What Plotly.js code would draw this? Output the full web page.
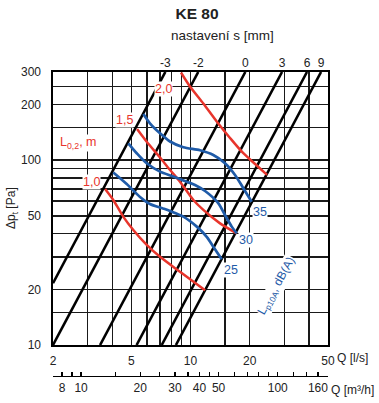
<!DOCTYPE html>
<html>
<head>
<meta charset="utf-8">
<script src="https://cdn.plot.ly/plotly-3.0.1.min.js"></script>
<style>html,body{margin:0;padding:0;background:#fff;}#chart{width:379px;height:403px;}</style>
</head>
<body>
<div id="chart"></div>
<script>
// ---- data ----
// setting lines (Δp ∝ Q²): endpoints inside the plot, Q [l/s], Δp [Pa]
var settingLabels = ['-3', '-2', '0', '3', '6', '9'];
var lineStartQ = [2, 2, 3.47, 5.32, 7.14, 8.43];
var lineStartP = [21.6, 10, 10, 10, 10, 10];
var lineEndQ = [7.45, 10.95, 19.0, 29.2, 39.1, 46.1];
var lineEndP = [300, 300, 300, 300, 300, 300];

// throw length L0,2 [m] curves
var throwLabels = ['1,0', '1,5', '2,0'];
var throwQ = [
  [3.68, 4.05, 4.55, 5.12, 5.99, 7.00, 8.84, 11.86],
  [5.35, 5.99, 7.00, 7.87, 8.84, 10.34, 11.62, 14.13, 17.18],
  [8.95, 9.94, 11.62, 13.59, 15.88, 18.5, 21.3, 24.5]
];
var throwP = [
  [69.8, 60.9, 49.5, 41.9, 34.8, 30.0, 24.9, 19.8],
  [147.5, 125.9, 103.4, 88.5, 76.5, 60.9, 53.8, 45.5, 40.2],
  [298, 250.5, 202.7, 162, 131.9, 109.4, 95.4, 83.2]
];

// noise Lp10A [dB(A)] curves
var noiseLabels = ['25', '30', '35'];
var noiseQ = [
  [4.05, 4.74, 5.54, 6.22, 7.25, 7.87, 9.19, 10.76, 12.09, 13.06, 14.41],
  [4.83, 5.33, 5.99, 7.00, 8.18, 9.56, 10.54, 11.86, 13.80, 14.97, 16.2, 17.18],
  [5.76, 6.22, 7.00, 7.87, 9.19, 11.18, 13.06, 14.97, 16.84, 18.56, 20.47]
];
var noiseP = [
  [85.8, 74.3, 63.2, 57.9, 54.8, 53.1, 49.5, 43.7, 38.5, 34.0, 29.1],
  [123.4, 109.0, 96.2, 86.7, 81.6, 76.5, 73.4, 68.1, 58.7, 50.5, 43.7, 40.2],
  [177.8, 158.4, 139.8, 126.2, 117.5, 113.1, 106.7, 96.2, 83.2, 70.5, 59.6]
];

// axes ticks
var qTickVals = [2, 3, 4, 5, 6, 7, 8, 9, 10, 15, 20, 30, 40, 50];
var qTickText = ['2', '', '', '5', '', '', '', '', '10', '', '20', '', '', '50'];
var pTickVals = [10, 15, 20, 30, 40, 50, 60, 70, 80, 90, 100, 150, 200, 250, 300];
var pTickText = ['10', '', '20', '', '', '50', '', '', '', '', '100', '', '200', '', '300'];
var m3hTickVals = [8, 9, 10, 15, 20, 25, 30, 35, 40, 45, 50, 60, 70, 80, 90, 100, 120, 140, 160, 180];
var m3hTickText = ['8', '', '10', '', '20', '', '30', '', '40', '', '50', '', '', '', '', '100', '', '', '160', ''];

// ---- styling ----
var FONT = 'Arial, "Liberation Sans", Helvetica, sans-serif';
var RED = '#e8352c';
var BLUE = '#1f5ba8';
var TXT = '#222222';

var traces = [];
for (var i = 0; i < settingLabels.length; i++) {
  traces.push({
    x: [lineStartQ[i], lineEndQ[i]], y: [lineStartP[i], lineEndP[i]],
    mode: 'lines', line: {color: '#000', width: 2.6}, hoverinfo: 'skip', showlegend: false,
    cliponaxis: true
  });
}
for (var j = 0; j < throwLabels.length; j++) {
  traces.push({
    x: throwQ[j], y: throwP[j], mode: 'lines',
    line: {color: RED, width: 2.5, shape: 'spline', smoothing: 0.8},
    hoverinfo: 'skip', showlegend: false
  });
}
for (var k = 0; k < noiseLabels.length; k++) {
  traces.push({
    x: noiseQ[k], y: noiseP[k], mode: 'lines',
    line: {color: BLUE, width: 2.7, shape: 'spline', smoothing: 0.8},
    hoverinfo: 'skip', showlegend: false
  });
}
// invisible traces to activate the extra axes
traces.push({x: [m3hTickVals[0]], y: [pTickVals[0]], xaxis: 'x2', yaxis: 'y', mode: 'none', hoverinfo: 'skip', showlegend: false});
traces.push({x: [lineEndQ[0]], y: [pTickVals[0]], xaxis: 'x3', yaxis: 'y', mode: 'none', hoverinfo: 'skip', showlegend: false});

var annotations = [];
// throw labels at the start of each red curve
var throwShift = [[-4, 7], [-3, 9], [-8, -16]];
for (var a = 0; a < throwLabels.length; a++) {
  annotations.push({
    x: Math.log10(throwQ[a][0]), y: Math.log10(throwP[a][0]), xref: 'x', yref: 'y',
    text: throwLabels[a], showarrow: false, xanchor: 'right', yanchor: 'middle',
    xshift: throwShift[a][0], yshift: throwShift[a][1],
    font: {family: FONT, size: 12.5, color: RED}, bgcolor: '#ffffff', borderpad: 0
  });
}
// noise labels at the end of each blue curve
var noiseShift = [[1, -11], [1, -7], [0, -10]];
for (var b = 0; b < noiseLabels.length; b++) {
  var n = noiseQ[b].length - 1;
  annotations.push({
    x: Math.log10(noiseQ[b][n]), y: Math.log10(noiseP[b][n]), xref: 'x', yref: 'y',
    text: noiseLabels[b], showarrow: false, xanchor: 'left', yanchor: 'middle',
    xshift: noiseShift[b][0], yshift: noiseShift[b][1],
    font: {family: FONT, size: 12.5, color: BLUE}, bgcolor: '#ffffff', borderpad: 0
  });
}
annotations.push({
  xref: 'paper', yref: 'paper', x: (78 - 53) / 275, y: (376 - 143) / 304,
  text: 'L<sub>0,2</sub>, m', showarrow: false, xanchor: 'center', yanchor: 'middle',
  font: {family: FONT, size: 12.5, color: RED}, bgcolor: '#ffffff', borderpad: 0
});
annotations.push({
  xref: 'paper', yref: 'paper', x: (277 - 53) / 275, y: (376 - 286) / 304,
  text: 'L<sub>p10A</sub>, dB(A)', showarrow: false, xanchor: 'center', yanchor: 'middle',
  textangle: -61, font: {family: FONT, size: 12, color: BLUE}, bgcolor: '#ffffff', borderpad: 0
});
annotations.push({
  xref: 'paper', yref: 'paper', x: (222 - 53) / 275, y: (376 - 36) / 304,
  text: 'nastavení s [mm]', showarrow: false, xanchor: 'center', yanchor: 'middle',
  font: {family: FONT, size: 13.5, color: TXT}
});
annotations.push({
  xref: 'paper', yref: 'paper', x: (12 - 53) / 275, y: (376 - 208) / 304,
  text: 'Δp<sub>t</sub> [Pa]', showarrow: false, xanchor: 'center', yanchor: 'middle',
  textangle: -90, font: {family: FONT, size: 12, color: TXT}
});
annotations.push({
  xref: 'paper', yref: 'paper', x: (335 - 53) / 275, y: (376 - 358) / 304,
  text: 'Q [l/s]', showarrow: false, xanchor: 'left', yanchor: 'middle',
  font: {family: FONT, size: 12, color: TXT}
});
annotations.push({
  xref: 'paper', yref: 'paper', x: (329 - 53) / 275, y: (376 - 390) / 304,
  text: 'Q [m³/h]', showarrow: false, xanchor: 'left', yanchor: 'middle',
  font: {family: FONT, size: 12, color: TXT}
});

var gridCol = '#1a1a1a';
var layout = {
  width: 379, height: 403,
  margin: {l: 53, r: 51, t: 72, b: 27, pad: 0},
  paper_bgcolor: '#fff', plot_bgcolor: '#fff',
  font: {family: FONT, size: 12, color: TXT},
  showlegend: false,
  title: {text: '<b>KE 80</b>', x: 197 / 379, xref: 'container', y: 1 - 14 / 403, yref: 'container',
          xanchor: 'center', yanchor: 'middle', font: {family: FONT, size: 15.5, color: TXT}},
  xaxis: {
    type: 'log', range: [Math.log10(qTickVals[0]), Math.log10(qTickVals[qTickVals.length - 1])],
    anchor: 'y', tickmode: 'array', tickvals: qTickVals, ticktext: qTickText,
    showgrid: true, gridcolor: gridCol, gridwidth: 1.4, zeroline: false,
    showline: true, linecolor: '#000', linewidth: 1.6, mirror: true,
    ticks: '', ticklabelstandoff: 4, tickfont: {family: FONT, size: 12, color: TXT}
  },
  xaxis2: {
    type: 'log', range: [Math.log10(7.2), Math.log10(180)],
    overlaying: 'x', anchor: 'free', position: 0, side: 'bottom',
    tickmode: 'array', tickvals: m3hTickVals, ticktext: m3hTickText,
    showgrid: false, zeroline: false, showline: true, linecolor: '#000', linewidth: 1.2,
    ticks: 'inside', ticklen: 4, tickwidth: 1.2, tickcolor: '#000',
    tickfont: {family: FONT, size: 12, color: TXT}
  },
  xaxis3: {
    type: 'log', range: [Math.log10(qTickVals[0]), Math.log10(qTickVals[qTickVals.length - 1])],
    overlaying: 'x', anchor: 'y', side: 'top',
    tickmode: 'array', tickvals: lineEndQ, ticktext: settingLabels,
    showgrid: false, zeroline: false, showline: false, ticks: '', ticklabelstandoff: 2,
    tickfont: {family: FONT, size: 12, color: TXT}
  },
  yaxis: {
    type: 'log', range: [Math.log10(pTickVals[0]), Math.log10(pTickVals[pTickVals.length - 1])],
    domain: [(376 - 345) / 304, 1],
    tickmode: 'array', tickvals: pTickVals, ticktext: pTickText,
    showgrid: true, gridcolor: gridCol, gridwidth: 1.4, zeroline: false,
    showline: true, linecolor: '#000', linewidth: 1.6, mirror: true,
    ticks: '', ticklabelstandoff: 8, tickfont: {family: FONT, size: 12, color: TXT}
  },
  annotations: annotations
};

Plotly.newPlot('chart', traces, layout, {displayModeBar: false, staticPlot: true});
</script>
</body>
</html>
